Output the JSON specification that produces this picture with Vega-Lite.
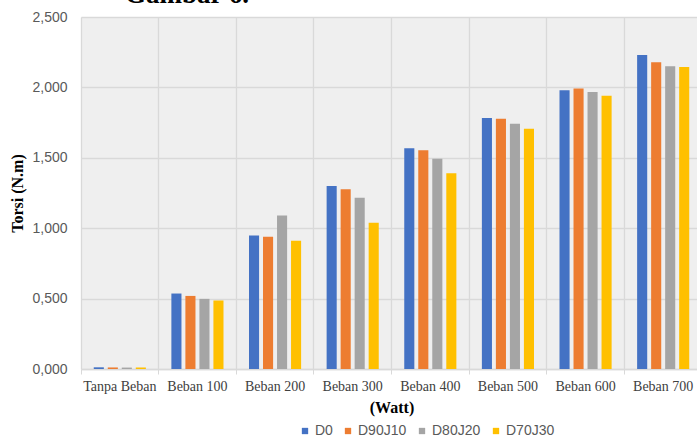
{
  "$schema": "https://vega.github.io/schema/vega-lite/v6.json",
  "autosize": {"type": "none"},
  "padding": {"left": 81, "top": 17, "right": 0, "bottom": 69},
  "width": 621,
  "height": 352,
  "background": "white",
  "title": {
    "text": "Gambar 6.",
    "anchor": "start",
    "frame": "group",
    "dx": 44,
    "dy": 26,
    "offset": 0,
    "baseline": "bottom",
    "font": "Liberation Serif",
    "fontSize": 27,
    "fontWeight": "bold",
    "color": "#000000"
  },
  "config": {
    "locale": {"number": {"decimal": ",", "thousands": ".", "grouping": [3], "currency": ["", ""]}},
    "view": {"fill": "#efefef", "stroke": null},
    "axis": {"gridColor": "#d9d9d9", "gridWidth": 1.3}
  },
  "data": {
    "values": [
      {"beban": "Tanpa Beban", "seri": "D0", "torsi": 0.012},
      {"beban": "Tanpa Beban", "seri": "D90J10", "torsi": 0.011},
      {"beban": "Tanpa Beban", "seri": "D80J20", "torsi": 0.01},
      {"beban": "Tanpa Beban", "seri": "D70J30", "torsi": 0.01},
      {"beban": "Beban 100", "seri": "D0", "torsi": 0.536},
      {"beban": "Beban 100", "seri": "D90J10", "torsi": 0.519},
      {"beban": "Beban 100", "seri": "D80J20", "torsi": 0.498},
      {"beban": "Beban 100", "seri": "D70J30", "torsi": 0.486},
      {"beban": "Beban 200", "seri": "D0", "torsi": 0.949},
      {"beban": "Beban 200", "seri": "D90J10", "torsi": 0.94},
      {"beban": "Beban 200", "seri": "D80J20", "torsi": 1.09},
      {"beban": "Beban 200", "seri": "D70J30", "torsi": 0.91},
      {"beban": "Beban 300", "seri": "D0", "torsi": 1.3},
      {"beban": "Beban 300", "seri": "D90J10", "torsi": 1.277},
      {"beban": "Beban 300", "seri": "D80J20", "torsi": 1.216},
      {"beban": "Beban 300", "seri": "D70J30", "torsi": 1.039},
      {"beban": "Beban 400", "seri": "D0", "torsi": 1.568},
      {"beban": "Beban 400", "seri": "D90J10", "torsi": 1.554},
      {"beban": "Beban 400", "seri": "D80J20", "torsi": 1.494},
      {"beban": "Beban 400", "seri": "D70J30", "torsi": 1.391},
      {"beban": "Beban 500", "seri": "D0", "torsi": 1.782},
      {"beban": "Beban 500", "seri": "D90J10", "torsi": 1.777},
      {"beban": "Beban 500", "seri": "D80J20", "torsi": 1.742},
      {"beban": "Beban 500", "seri": "D70J30", "torsi": 1.707},
      {"beban": "Beban 600", "seri": "D0", "torsi": 1.98},
      {"beban": "Beban 600", "seri": "D90J10", "torsi": 1.992},
      {"beban": "Beban 600", "seri": "D80J20", "torsi": 1.968},
      {"beban": "Beban 600", "seri": "D70J30", "torsi": 1.94},
      {"beban": "Beban 700", "seri": "D0", "torsi": 2.23},
      {"beban": "Beban 700", "seri": "D90J10", "torsi": 2.178},
      {"beban": "Beban 700", "seri": "D80J20", "torsi": 2.15},
      {"beban": "Beban 700", "seri": "D70J30", "torsi": 2.145}
    ]
  },
  "mark": {"type": "bar"},
  "encoding": {
    "x": {
      "field": "beban",
      "type": "nominal",
      "sort": null,
      "scale": {"paddingInner": 0, "paddingOuter": 0},
      "axis": {
        "title": "(Watt)",
        "titleFont": "Liberation Serif",
        "titleFontSize": 16,
        "titleFontWeight": "bold",
        "titleColor": "#000000",
        "titlePadding": 6,
        "labelAngle": 0,
        "labelFont": "Liberation Serif",
        "labelFontSize": 14,
        "labelColor": "#404040",
        "labelPadding": 5,
        "labelBound": false,
        "labelOverlap": false,
        "bandPosition": 0,
        "grid": true,
        "ticks": true,
        "tickSize": 5,
        "tickColor": "#d9d9d9",
        "domainColor": "#d9d9d9",
        "domainWidth": 1.3
      }
    },
    "xOffset": {
      "field": "seri",
      "type": "nominal",
      "sort": ["D0", "D90J10", "D80J20", "D70J30"],
      "scale": {"paddingInner": 0.28, "paddingOuter": 0.91}
    },
    "y": {
      "field": "torsi",
      "type": "quantitative",
      "scale": {"domain": [0, 2.5], "nice": false},
      "axis": {
        "title": "Torsi (N.m)",
        "titleFont": "Liberation Serif",
        "titleFontSize": 16,
        "titleFontWeight": "bold",
        "titleColor": "#000000",
        "titlePadding": 6,
        "format": ".3f",
        "values": [0, 0.5, 1, 1.5, 2, 2.5],
        "labelFont": "Liberation Sans",
        "labelFontSize": 14,
        "labelColor": "#595959",
        "labelPadding": 14,
        "ticks": false,
        "domain": false
      }
    },
    "color": {
      "field": "seri",
      "type": "nominal",
      "sort": ["D0", "D90J10", "D80J20", "D70J30"],
      "scale": {
        "domain": ["D0", "D90J10", "D80J20", "D70J30"],
        "range": ["#4472C4", "#ED7D31", "#A5A5A5", "#FFC000"]
      },
      "legend": {
        "title": null,
        "orient": "none",
        "direction": "horizontal",
        "legendX": 217,
        "legendY": 407,
        "symbolType": "square",
        "symbolSize": 40,
        "symbolStrokeWidth": 0,
        "labelFont": "Liberation Sans",
        "labelFontSize": 14,
        "labelColor": "#595959",
        "columnPadding": 8,
        "labelOffset": 3
      }
    }
  }
}
